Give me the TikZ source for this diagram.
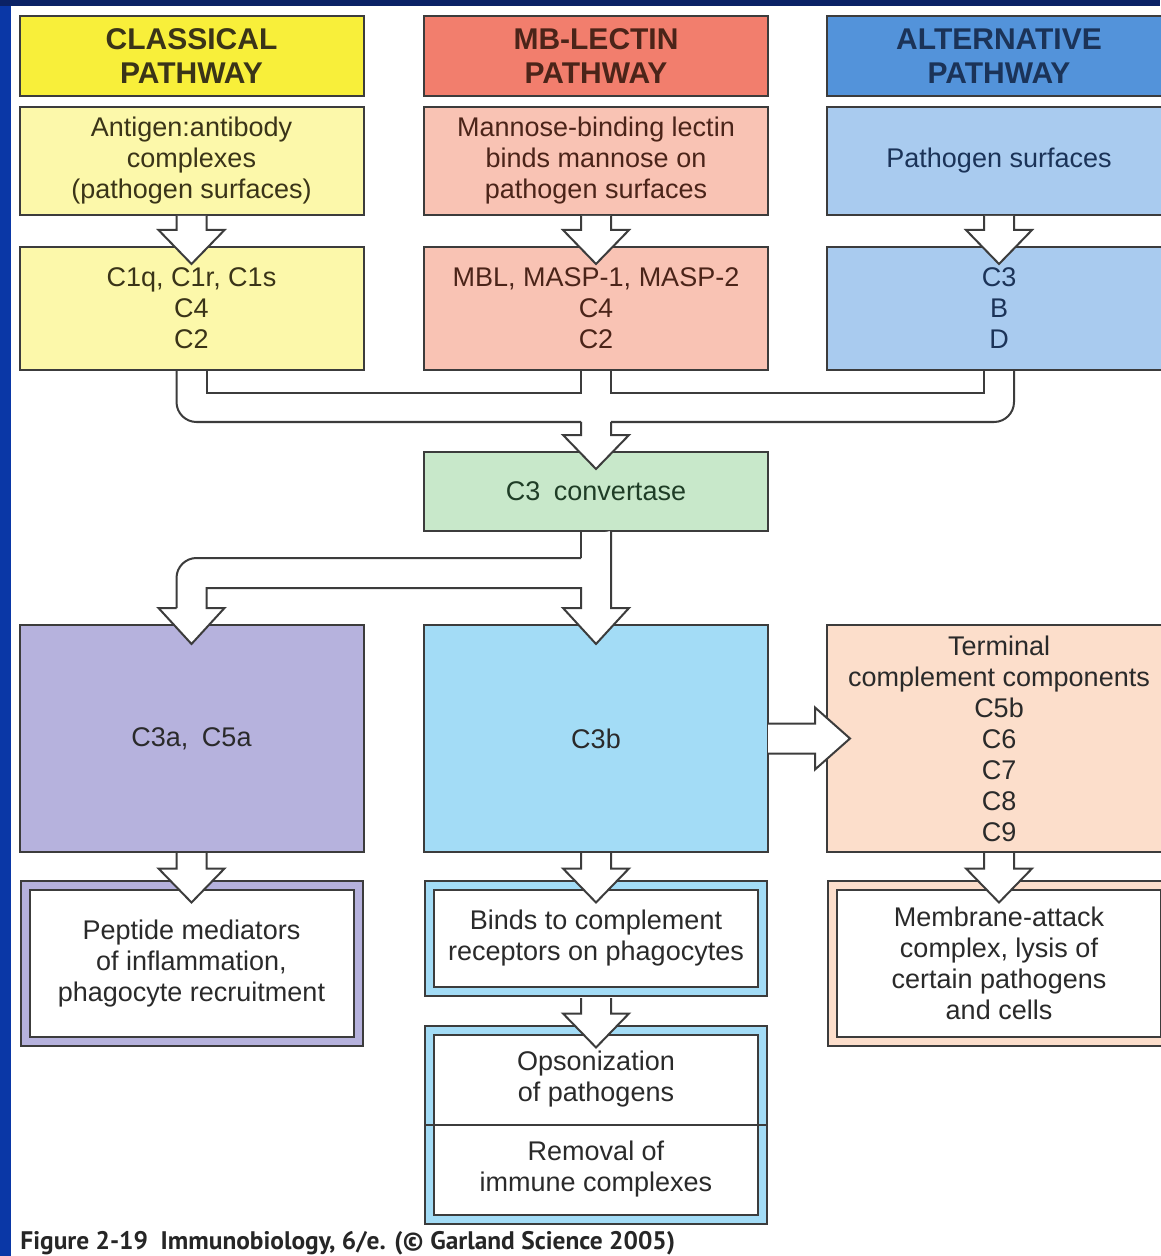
\documentclass[tikz,border=0pt]{standalone}
\usepackage{fontspec}
\setmainfont{Liberation Sans}
\newfontfamily\capfont{PT Sans}
\usetikzlibrary{calc}

\definecolor{navy}{HTML}{0B2266}
\definecolor{royal}{HTML}{0A37A6}
\definecolor{lineclr}{HTML}{3C3C3C}
\definecolor{yelH}{HTML}{F8EF3A}
\definecolor{yelL}{HTML}{FCF8AA}
\definecolor{salH}{HTML}{F27E6D}
\definecolor{salL}{HTML}{F9C3B4}
\definecolor{bluH}{HTML}{5393DA}
\definecolor{bluL}{HTML}{A9CBEF}
\definecolor{grn}{HTML}{C8E8CA}
\definecolor{lav}{HTML}{B6B2DD}
\definecolor{sky}{HTML}{A3DCF6}
\definecolor{pch}{HTML}{FCDECB}
\definecolor{clTxt}{HTML}{3A3418}
\definecolor{mbTxt}{HTML}{4B2419}
\definecolor{alTxt}{HTML}{1B3358}
\definecolor{gTxt}{HTML}{1F3D26}
\definecolor{dTxt}{HTML}{2A2A2A}

\tikzset{
  box/.style={draw=lineclr, line width=1pt, minimum width=172pt, inner sep=0pt,
    outer sep=0pt, align=center, text=dTxt, font=\fontsize{13.5}{15.5}\selectfont},
  hdr/.style={box, minimum height=40pt, font=\bfseries\fontsize{15}{17}\selectfont},
  dbl/.style={box, fill=white, double=#1, double distance=3.5pt, minimum width=166.5pt},
  txt/.style={align=center, inner sep=0pt, text=dTxt, font=\fontsize{13.5}{15.5}\selectfont},
  wire/.style={draw=lineclr, line width=1pt},
  blk/.style={draw=lineclr, line width=1pt, fill=white, line join=miter},
}

% hollow block arrow, straight down from #2 into #3
\newcommand{\dnarrow}[3][0]{%
  \draw[blk] ($(#2.south)+(-15,#1+1)$) -- ($(#3.north)+(-15,-17)$) -- ++(-18,0)
    -- ($(#3.north)+(0,17)$) -- ($(#3.north)+(33,-17)$) -- ++(-18,0)
    -- ($(#2.south)+(15,#1+1)$);}

\begin{document}
\begin{tikzpicture}[x=0.5pt, y=-0.5pt]
\useasboundingbox (0,0) rectangle (1160,1256);
\fill[navy] (0,0) rectangle (1160,1256);
\fill[royal] (0,6) rectangle (11,1256);
\fill[white] (11,6) rectangle (1160,1256);

\node[hdr, fill=yelH, text=clTxt] (clH) at (191.5,56) {CLASSICAL\\PATHWAY};
\node[hdr, fill=salH, text=mbTxt] (mbH) at (596,56) {MB-LECTIN\\PATHWAY};
\node[hdr, fill=bluH, text=alTxt] (alH) at (999,56) {ALTERNATIVE\\PATHWAY};

\node[box, minimum height=54pt, fill=yelL, text=clTxt] (cl2) at (191.5,161) {Antigen:antibody\\complexes\\(pathogen surfaces)};
\node[box, minimum height=54pt, fill=salL, text=mbTxt] (mb2) at (596,161) {Mannose-binding lectin\\binds mannose on\\pathogen surfaces};
\node[box, minimum height=54pt, fill=bluL, text=alTxt] (al2) at (999,161) {Pathogen surfaces};

\node[box, minimum height=61.5pt, fill=yelL, text=clTxt] (cl3) at (191.5,308.5) {C1q, C1r, C1s\\C4\\C2};
\node[box, minimum height=61.5pt, fill=salL, text=mbTxt] (mb3) at (596,308.5) {MBL, MASP-1, MASP-2\\C4\\C2};
\node[box, minimum height=61.5pt, fill=bluL, text=alTxt] (al3) at (999,308.5) {C3\\B\\D};

\node[box, minimum height=39.5pt, fill=grn, text=gTxt] (conv) at (596,491.5) {C3\enspace convertase};

\node[box, minimum height=113.5pt, fill=lav] (c3a) at (191.5,738.5) {C3a,\enspace C5a};
\node[box, minimum height=113.5pt, fill=sky] (c3b) at (596,738.5) {C3b};
\node[box, minimum height=113.5pt, fill=pch] (term) at (999,738.5) {Terminal\\complement components\\C5b\\C6\\C7\\C8\\C9};

\node[dbl=lav, minimum height=78pt] (pep) at (191.5,963.5) {Peptide mediators\\of inflammation,\\phagocyte recruitment};
\node[dbl=sky, minimum height=53pt] (bind) at (596,938.5) {Binds to complement\\receptors on phagocytes};
\node[dbl=pch, minimum height=78pt] (mac) at (999,963.5) {Membrane-attack\\complex, lysis of\\certain pathogens\\and cells};
\node[dbl=sky, minimum height=94.5pt] (ops) at (596,1125) {};
\draw[wire] ($(ops.west)+(-5.5,0)$) -- ($(ops.east)+(5.5,0)$);
\node[txt] (ops1) at (596,1079) {Opsonization\\of pathogens};
\node[txt] (ops2) at (596,1169) {Removal of\\immune complexes};

\dnarrow{cl2}{cl3}
\dnarrow{mb2}{mb3}
\dnarrow{al2}{al3}
\dnarrow{c3a}{pep}
\dnarrow{c3b}{bind}
\dnarrow{term}{mac}
\dnarrow[5.5]{bind}{ops}

\draw[blk] ($(conv.north)+(-15,-30)$) -- ($(conv.north)+(-15,-17)$) -- ++(-18,0)
  -- ($(conv.north)+(0,17)$) -- ($(conv.north)+(33,-17)$) -- ++(-18,0)
  -- ($(conv.north)+(15,-30)$);
\draw[wire, rounded corners=10pt] ($(cl3.south)+(-15,0)$) |- ($(conv.north)+(-15,-30)$);
\draw[wire, rounded corners=10pt] ($(conv.north)+(15,-30)$) -| ($(al3.south)+(15,0)$);
\draw[wire] ($(cl3.south)+(15,0)$) |- ($(mb3.south)+(-15,23)$) -- ($(mb3.south)+(-15,0)$);
\draw[wire] ($(mb3.south)+(15,0)$) |- ($(al3.south)+(-15,23)$) -- ($(al3.south)+(-15,0)$);

\draw[blk] ($(c3a.north)+(-15,-17)$) -- ++(-18,0) -- ($(c3a.north)+(0,19)$)
  -- ($(c3a.north)+(33,-17)$) -- ++(-18,0) -- ($(c3a.north)+(15,-37)$)
  -| ($(c3b.north)+(-15,-17)$) -- ++(-18,0) -- ($(c3b.north)+(0,19)$)
  -- ($(c3b.north)+(33,-17)$) -- ++(-18,0) -- ($(conv.south)+(15,0)$);
\draw[wire] ($(conv.south)+(-15,0)$) -- ($(conv.south)+(-15,27)$);
\draw[wire, rounded corners=10pt] ($(conv.south)+(-15,27)$) -| ($(c3a.north)+(-15,-17)$);

\draw[blk] ($(c3b.east)+(0,-15)$) -- ($(term.west)+(-12,-15)$) -- ++(0,-16)
  -- ($(term.west)+(23,0)$) -- ($(term.west)+(-12,31)$) -- ++(0,-16)
  -- ($(c3b.east)+(0,15)$);

\node[anchor=base west, inner sep=0pt, text=black!85, font=\capfont\bfseries\fontsize{12.7}{14}\selectfont] (cap) at (20,1249) {Figure 2-19\enspace Immunobiology, 6/e. (© Garland Science 2005)};
\end{tikzpicture}
\end{document}
